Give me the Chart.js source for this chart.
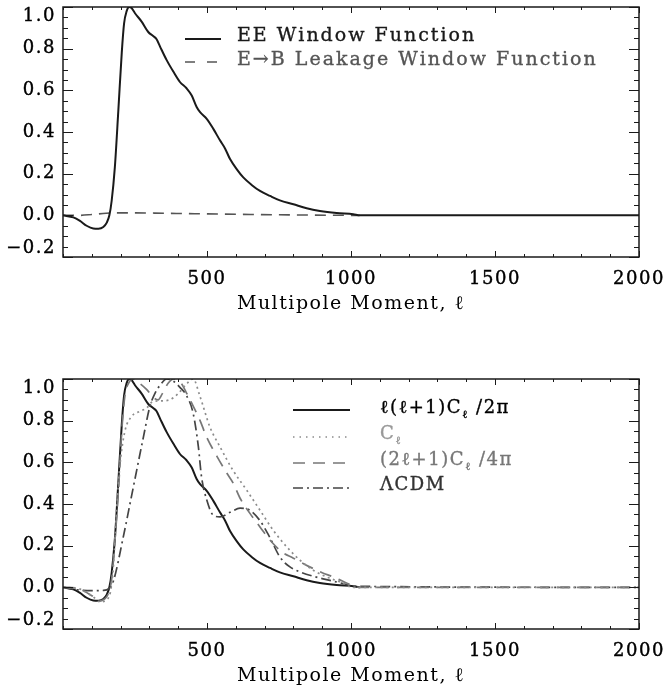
<!DOCTYPE html>
<html><head><meta charset="utf-8">
<script src="https://cdn.jsdelivr.net/npm/chart.js@4.4.1/dist/chart.umd.min.js"></script>
<style>
html,body{margin:0;padding:0;background:#fff;}
#wrap{position:relative;width:665px;height:693px;background:#fff;overflow:hidden;}
canvas{position:absolute;left:0;}
#c1{top:0;}
#c2{top:372px;}
</style></head>
<body><div id="wrap"><canvas id="c1" width="665" height="321"></canvas><canvas id="c2" width="665" height="321"></canvas></div>
<script>
// ---------- axis ticks ----------
const xTickValues = [500, 1000, 1500, 2000];
const xTickLabels = ['500', '1000', '1500', '2000'];
const yTickValues = [-0.2, 0.0, 0.2, 0.4, 0.6, 0.8, 1.0];
const yTickLabels = ['\u22120.2', '0.0', '0.2', '0.4', '0.6', '0.8', '1.0'];
const xTitle = 'Multipole Moment, \u2113';

// ---------- top panel ----------
const eeEll = [0,36,59,82,105,123,140,152,161,169,180,192,204,212,221,230,238,250,273,296,314,325,337,360,383,406,429,447,464,476,499,522,545,563,580,603,626,655,684,719,753,800,846,892,950,1008,1031,2000];
const eeVal = [0,-0.01,-0.027,-0.05,-0.063,-0.064,-0.056,-0.035,0,0.07,0.23,0.5,0.78,0.92,0.98,1.0,0.995,0.97,0.93,0.88,0.86,0.845,0.81,0.745,0.69,0.64,0.61,0.575,0.52,0.495,0.463,0.415,0.36,0.32,0.27,0.222,0.182,0.146,0.117,0.093,0.072,0.053,0.034,0.021,0.011,0.005,0,0];
const leakEll = [0,60,100,150,200,250,350,500,650,800,1000,1030];
const leakVal = [0,0.0,0.004,0.010,0.012,0.012,0.010,0.007,0.004,0.002,0.0,0];
const topLegendLabels = ['EE Window Function', 'E\u2192B Leakage Window Function'];

// ---------- bottom panel ----------
const clEll = [0,50,100,130,150,165,175,186,198,215,238,267,290,310,340,370,400,425,452,476,510,545,591,638,684,730,777,823,869,915,962,1008,2000];
const clVal = [0,-0.005,-0.04,-0.07,-0.06,-0.02,0.1,0.37,0.59,0.75,0.82,0.845,0.86,0.89,0.895,0.9,0.93,0.97,1.0,0.915,0.77,0.675,0.56,0.466,0.37,0.274,0.194,0.13,0.082,0.05,0.026,0,0];
const twoEll = [0,50,100,125,145,160,170,180,192,204,215,228,245,265,290,315,330,345,365,385,410,430,452,476,499,534,568,591,614,649,684,720,760,800,840,869,900,938,970,1000,1030,2000];
const twoVal = [0,-0.005,-0.04,-0.065,-0.055,-0.02,0.05,0.22,0.45,0.75,0.92,0.98,1.0,0.98,0.95,0.91,0.9,0.93,0.98,1.0,0.98,0.93,0.87,0.8,0.72,0.63,0.55,0.5,0.43,0.355,0.29,0.225,0.17,0.14,0.11,0.09,0.07,0.05,0.03,0.012,0,0];
const lcdmEll = [0,50,100,140,160,175,209,244,279,302,319,337,360,383,406,429,452,470,481,499,522,545,580,615,649,684,718,753,788,823,869,915,973,1008,2000];
const lcdmVal = [0,-0.012,-0.016,-0.015,-0.005,0.03,0.24,0.48,0.72,0.87,0.93,0.97,1.0,0.99,0.96,0.92,0.835,0.675,0.53,0.42,0.346,0.338,0.36,0.38,0.37,0.32,0.24,0.146,0.098,0.074,0.053,0.037,0.018,0.005,0];
const bottomLegendLabels = ['\u2113(\u2113+1)C_\u2113 /2\u03c0', 'C_\u2113', '(2\u2113+1)C_\u2113 /4\u03c0', '\u039bCDM'];

// ---------- helpers ----------
const pts = (ls, vs) => ls.map((l, i) => ({x: l, y: vs[i]}));
function labelFor(v, vals, labs) {
  for (let i = 0; i < vals.length; i++) if (Math.abs(v - vals[i]) < 1e-6) return labs[i];
  return '';
}
function yLabel(v) {
  const lab = labelFor(v, yTickValues, yTickLabels);
  if (lab && Math.abs(v - yTickValues[yTickValues.length - 1]) < 1e-6) return ['', lab];
  if (lab && Math.abs(v - yTickValues[0]) < 1e-6) return [lab, ''];
  return lab;
}
const isMajor = (v, vals) => vals.some(t => Math.abs(v - t) < 1e-6);
const FONT = 'DejaVu Serif';

function drawRich(ctx, text, x, y, size, spacing) {
  let i = 0;
  while (i < text.length) {
    if (text[i] === '_') {
      ctx.font = Math.round(size * 0.62) + 'px "' + FONT + '"';
      ctx.fillText(text[i + 1], x, y + 5);
      ctx.strokeText(text[i + 1], x, y + 5);
      x += ctx.measureText(text[i + 1]).width + spacing;
      i += 2; continue;
    }
    ctx.font = size + 'px "' + FONT + '"';
    ctx.fillText(text[i], x, y);
    ctx.strokeText(text[i], x, y);
    x += ctx.measureText(text[i]).width + spacing;
    i++;
  }
}

const idlPlugin = {
  id: 'idl',
  beforeDraw(chart) { chart.ctx.letterSpacing = '1.5px'; },
  afterDraw(chart, args, opts) {
    const {ctx, chartArea: a} = chart;
    const xs = chart.scales.x, ys = chart.scales.y;
    ctx.save();
    ctx.letterSpacing = '0px';
    ctx.setLineDash([]);
    ctx.strokeStyle = '#1a1a1a';
    ctx.lineWidth = 1;
    ctx.beginPath();
    xs.ticks.forEach(t => {
      const px = Math.round(xs.getPixelForValue(t.value)) + 0.5;
      const len = isMajor(t.value, xTickValues) ? 6 : 3;
      ctx.moveTo(px, a.bottom); ctx.lineTo(px, a.bottom - len);
      ctx.moveTo(px, a.top); ctx.lineTo(px, a.top + len);
    });
    ys.ticks.forEach(t => {
      const py = Math.round(ys.getPixelForValue(t.value)) + 0.5;
      const len = isMajor(t.value, yTickValues) ? 10 : 5;
      ctx.moveTo(a.left, py); ctx.lineTo(a.left + len, py);
      ctx.moveTo(a.right, py); ctx.lineTo(a.right - len, py);
    });
    ctx.stroke();
    ctx.lineWidth = 1.5;
    ctx.strokeRect(a.left, a.top, a.right - a.left, a.bottom - a.top);
    // legend
    const L = opts.legend;
    if (L) {
      L.items.forEach((it, i) => {
        ctx.save();
        ctx.strokeStyle = it.color;
        ctx.lineWidth = it.width;
        ctx.setLineDash(it.dash);
        ctx.beginPath();
        ctx.moveTo(L.x0, it.lineY); ctx.lineTo(L.x1, it.lineY);
        ctx.stroke();
        ctx.restore();
        ctx.save();
        ctx.fillStyle = it.textColor;
        ctx.strokeStyle = it.textColor;
        ctx.lineWidth = 0.35;
        ctx.setLineDash([]);
        ctx.textBaseline = 'alphabetic';
        ctx.textAlign = 'left';
        drawRich(ctx, L.labels[i], L.tx, it.baseY, L.size, L.spacing);
        ctx.restore();
      });
    }
    ctx.restore();
  }
};

function makeChart(id, datasets, legend) {
  return new Chart(document.getElementById(id), {
    type: 'line',
    data: {datasets},
    options: {
      responsive: false, animation: false, devicePixelRatio: 1,
      layout: {padding: {top: 7, right: 26, left: 0, bottom: 0}},
      elements: {point: {radius: 0}},
      plugins: {legend: {display: false}, tooltip: {enabled: false}, idl: {legend}},
      scales: {
        x: {
          type: 'linear', min: 0, max: 2000,
          ticks: {stepSize: 100, autoSkip: false, maxRotation: 0, padding: 12, color: '#000',
                  textStrokeColor: '#000', textStrokeWidth: 0.4,
                  font: {family: FONT, size: 18}, callback: v => labelFor(v, xTickValues, xTickLabels)},
          grid: {display: false, drawTicks: false}, border: {display: false},
          title: {display: true, text: xTitle, color: '#000', font: {family: FONT, size: 19}, padding: {top: 0, bottom: 6}},
          afterFit(s) { s.height = 64; s.paddingLeft = 0; s.paddingRight = 0; }
        },
        y: {
          type: 'linear', min: -0.2, max: 1.0,
          ticks: {stepSize: 0.05, autoSkip: false, padding: 7, color: '#000',
                  textStrokeColor: '#000', textStrokeWidth: 0.4,
                  font: {family: FONT, size: 18, lineHeight: 1.0}, callback: yLabel},
          grid: {display: false, drawTicks: false}, border: {display: false},
          afterFit(s) { s.width = 63; s.paddingTop = 0; s.paddingBottom = 0; }
        }
      }
    },
    plugins: [idlPlugin]
  });
}

const lineBase = {pointRadius: 0, cubicInterpolationMode: 'monotone', fill: false};

makeChart('c1', [
  Object.assign({label: topLegendLabels[0], data: pts(eeEll, eeVal), borderColor: '#1a1a1a', borderWidth: 2}, lineBase),
  Object.assign({label: topLegendLabels[1], data: pts(leakEll, leakVal), borderColor: '#555', borderWidth: 1.6, borderDash: [11, 7]}, lineBase)
], {
  labels: topLegendLabels, x0: 185, x1: 221, tx: 237, size: 19, spacing: 2,
  items: [
    {color: '#1a1a1a', width: 2, dash: [], lineY: 39, baseY: 41, textColor: '#1a1a1a'},
    {color: '#555', width: 1.6, dash: [10, 12], lineY: 62, baseY: 65, textColor: '#555'}
  ]
});

const solidBottom = eeEll.map((l, i) => ({x: l, y: eeVal[i]})).filter(p => p.x <= 1031);
makeChart('c2', [
  Object.assign({label: bottomLegendLabels[0], data: solidBottom, borderColor: '#1a1a1a', borderWidth: 2, order: 5}, lineBase),
  Object.assign({label: bottomLegendLabels[1], data: pts(clEll, clVal), borderColor: '#8c8c8c', borderWidth: 1.7, borderDash: [2, 3.5]}, lineBase),
  Object.assign({label: bottomLegendLabels[2], data: pts(twoEll, twoVal), borderColor: '#777', borderWidth: 1.7, borderDash: [12, 8]}, lineBase),
  Object.assign({label: bottomLegendLabels[3], data: pts(lcdmEll, lcdmVal), borderColor: '#444', borderWidth: 1.7, borderDash: [10, 4, 2, 4]}, lineBase)
], {
  labels: bottomLegendLabels, x0: 293, x1: 350, tx: 380, size: 18, spacing: 1.5,
  items: [
    {color: '#1a1a1a', width: 2, dash: [], lineY: 38, baseY: 41, textColor: '#000'},
    {color: '#8c8c8c', width: 1.6, dash: [1.5, 5], lineY: 65, baseY: 67, textColor: '#999'},
    {color: '#777', width: 1.6, dash: [12, 8], lineY: 91, baseY: 93, textColor: '#777'},
    {color: '#444', width: 1.6, dash: [10, 4, 2, 4], lineY: 116, baseY: 118, textColor: '#333'}
  ]
});
</script>
</body></html>
